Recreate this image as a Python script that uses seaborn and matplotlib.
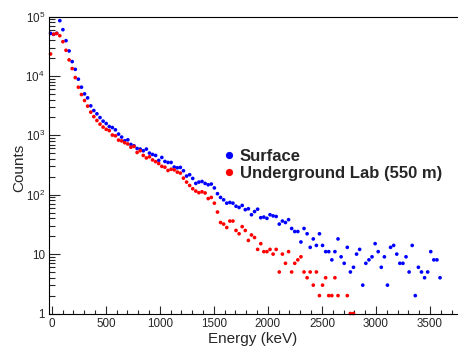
import numpy as np
import pandas as pd
import matplotlib
matplotlib.use("Agg")
import matplotlib.pyplot as plt
import matplotlib.ticker as mticker
from matplotlib.lines import Line2D
import seaborn as sns

# --- DATA (one value per energy bin) ---
BIN_LOW = -25.0      # keV, lower edge of first bin
BIN_WIDTH = 28.6     # keV

SURFACE_COUNTS = [
    52000, 50000, 52000, 85000, 60000, 39200, 26300, 17400, 12900, 8800,
    6460, 4980, 4270, 3130, 2610, 2300, 1990, 1730, 1580, 1405,
    1350, 1237, 1048, 934, 809, 840, 701, 666, 600, 586,
    549, 586, 502, 476, 458, 378, 424, 363, 349, 349,
    292, 284, 288, 253, 206, 217, 188, 155, 163, 167,
    155, 147, 151, 130, 104, 90, 82, 72, 74, 72,
    64, 61, 66, 56, 58, 46, 52, 57, 41, 42,
    40, 46, 44, 43, 32, 36, 34, 38, 27, 24,
    24, 16, 27, 22, 13, 18, 14, 22, 14, 11,
    11, 8, 11, 18, 9, 7, 13, 5, 6, 10,
    12, 3, 7, 8, 9, 15, 11, 6, 9, 3,
    13, 14, 10, 7, 7, 9, 5, 14, 2, 6,
    5, 4, 5, 11, 8, 8, 4,
]

UNDERGROUND_COUNTS = [
    23400, 50300, 52000, 47500, 37700, 27000, 18600, 13300, 9370, 6450,
    4850, 3850, 3100, 2455, 2060, 1775, 1540, 1375, 1260, 1200,
    1008, 980, 830, 805, 750, 715, 630, 650, 514, 550,
    458, 416, 435, 385, 360, 334, 300, 290, 256, 268,
    262, 240, 231, 190, 163, 143, 126, 115, 108, 112,
    107, 86, 90, 72, 51, 34, 32, 28, 36, 36,
    25, 22, 29, 25, 17, 21, 19, 12, 15, 11,
    11, 12, 10, 12, 5, 10, 7, 11, 5, 7,
    8, 9, 5, 4, 5, 3, 5, 2, 3, 4,
    2, 2, 4, 2, 0, 0, 2, 1, 1,
]

SERIES = ['Surface', 'Underground Lab (550 m)']
COLORS = ['blue', 'red']

X_TICKS = [0, 500, 1000, 1500, 2000, 2500, 3000, 3500]
Y_TICKS = [1, 10, 100, 1000, 10000, 100000]
Y_TICK_LABELS = ['1', '10', r'$\mathdefault{10^{2}}$', r'$\mathdefault{10^{3}}$',
                 r'$\mathdefault{10^{4}}$', r'$\mathdefault{10^{5}}$']


def series_frame(counts, name):
    n = len(counts)
    centers = BIN_LOW + BIN_WIDTH * (np.arange(n) + 0.5)
    df = pd.DataFrame({'Energy': centers, 'Counts': counts, 'Series': name})
    # empty bins are not drawn on a log axis
    return df[df['Counts'] > 0]


def make_plot():
    sns.set_style("ticks")
    plt.rcParams['font.family'] = ['Liberation Sans', 'DejaVu Sans']
    plt.rcParams['mathtext.fontset'] = 'custom'
    plt.rcParams['mathtext.rm'] = 'Liberation Sans'

    plot_df = pd.concat([series_frame(SURFACE_COUNTS, SERIES[0]),
                         series_frame(UNDERGROUND_COUNTS, SERIES[1])],
                        ignore_index=True)

    fig = plt.figure(figsize=(4.59, 3.49), dpi=100)
    ax = fig.add_axes([49 / 459, 1 - 313.5 / 349, 408 / 459, 297 / 349])

    sns.scatterplot(data=plot_df, x='Energy', y='Counts', hue='Series',
                    palette=dict(zip(SERIES, COLORS)), marker='o', s=7,
                    linewidth=0, legend=False, clip_on=False, ax=ax)

    ax.set_yscale('log')
    ax.set_xlim(-25, 3750)
    ax.set_ylim(1, 1e5)

    # ROOT-like frame
    ax.spines['right'].set_visible(False)
    for side in ['left', 'bottom', 'top']:
        ax.spines[side].set_linewidth(0.8)
        ax.spines[side].set_color('black')

    ax.xaxis.set_major_locator(mticker.FixedLocator(X_TICKS))
    ax.xaxis.set_minor_locator(mticker.MultipleLocator(100))
    ax.yaxis.set_major_locator(mticker.FixedLocator(Y_TICKS))
    ax.yaxis.set_major_formatter(mticker.FixedFormatter(Y_TICK_LABELS))
    ax.yaxis.set_minor_locator(mticker.LogLocator(base=10, subs=range(2, 10), numticks=50))
    ax.yaxis.set_minor_formatter(mticker.NullFormatter())

    ax.tick_params(axis='x', which='major', direction='in', length=6, width=0.8,
                   labelsize=8.4, pad=3, top=False)
    ax.tick_params(axis='x', which='minor', direction='in', length=3, width=0.8, top=False)
    ax.tick_params(axis='y', which='major', direction='in', length=8, width=0.8,
                   labelsize=8.4, pad=3, right=False)
    ax.tick_params(axis='y', which='minor', direction='in', length=4.5, width=0.8, right=False)

    ax.set_xlabel('Energy (keV)', fontsize=11)
    ax.set_ylabel('Counts', fontsize=11)
    ax.xaxis.set_label_coords(0.5, -0.062)
    ax.yaxis.set_label_coords(-0.056, 0.49)

    handles = [Line2D([], [], marker='o', linestyle='none', color=c,
                      markersize=5.2, markeredgewidth=0) for c in COLORS]
    ax.legend(handles, SERIES, loc='center left', bbox_to_anchor=(0.429, 0.50),
              frameon=False, prop={'weight': 'bold', 'size': 12}, borderpad=0,
              borderaxespad=0, handlelength=0.6, handletextpad=0.33,
              labelspacing=0.1)

    fig.savefig('out.png', dpi=100)
    plt.close(fig)


if __name__ == "__main__":
    make_plot()
